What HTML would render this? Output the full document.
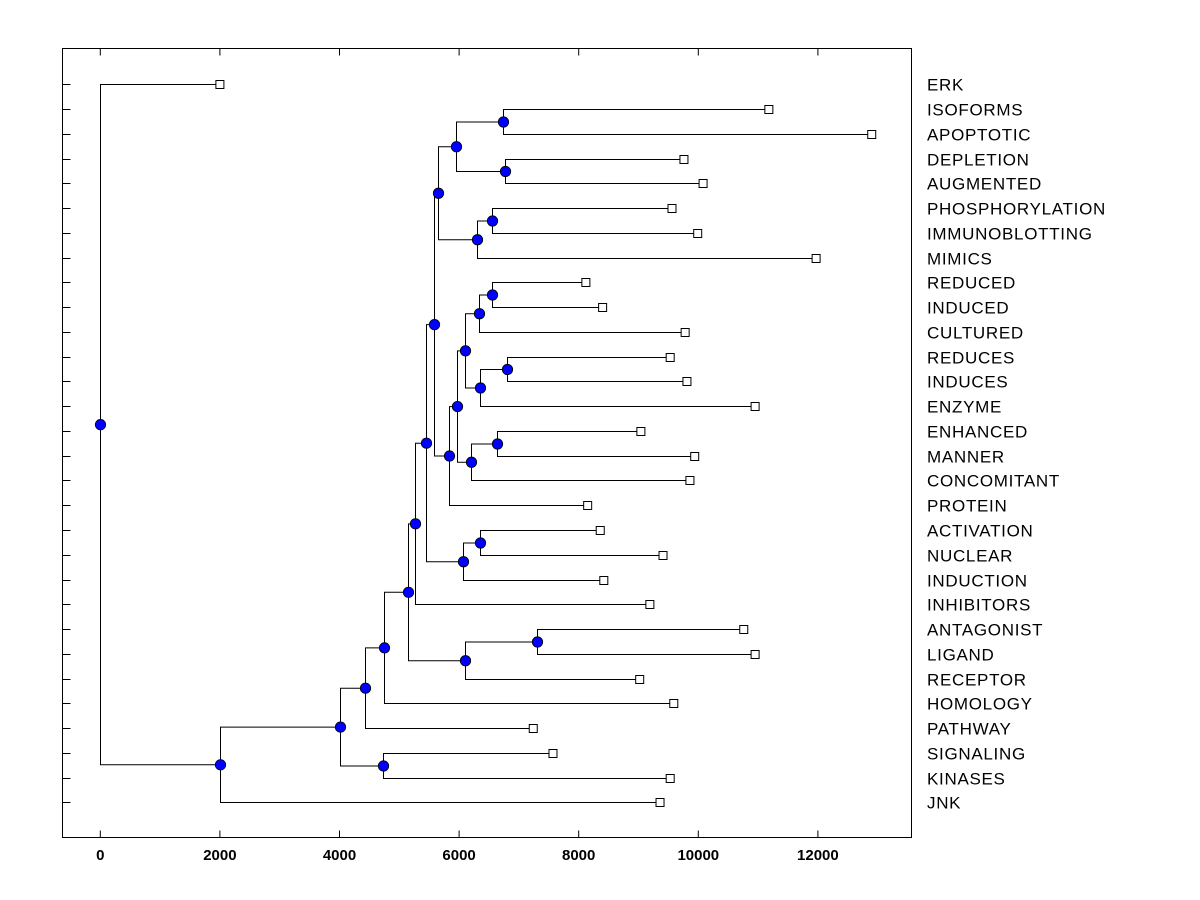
<!DOCTYPE html>
<html><head><meta charset="utf-8"><style>
html,body{margin:0;padding:0;background:#fff;}
svg{display:block;font-family:"Liberation Sans",Arial,sans-serif;}
</style></head><body>
<svg id="chart" width="1200" height="900" viewBox="0 0 1200 900" xmlns="http://www.w3.org/2000/svg">
<rect x="0" y="0" width="1200" height="900" fill="#fff"/>
<rect x="62.5" y="48.5" width="849" height="789" fill="none" stroke="#000" stroke-width="1"/>
<g id="axes"></g><g id="links"></g><g id="marks"></g><g id="labels"></g>
</svg>
<script>
const leafNames = ["ERK","ISOFORMS","APOPTOTIC","DEPLETION","AUGMENTED","PHOSPHORYLATION","IMMUNOBLOTTING","MIMICS","REDUCED","INDUCED","CULTURED","REDUCES","INDUCES","ENZYME","ENHANCED","MANNER","CONCOMITANT","PROTEIN","ACTIVATION","NUCLEAR","INDUCTION","INHIBITORS","ANTAGONIST","LIGAND","RECEPTOR","HOMOLOGY","PATHWAY","SIGNALING","KINASES","JNK"];
const leafValues = [2000,11180,12900,9760,10080,9560,9990,11970,8120,8400,9780,9530,9810,10950,9040,9940,9860,8150,8360,9410,8420,9190,10760,10950,9020,9590,7240,7570,9530,9360];
const mergeA = ["ISOFORMS","DEPLETION",0,"PHOSPHORYLATION",3,2,"REDUCED",6,"REDUCES",8,7,"ENHANCED",11,10,13,5,"ACTIVATION",16,15,18,"ANTAGONIST",20,19,22,23,"SIGNALING",24,26,"ERK"];
const mergeB = ["APOPTOTIC","AUGMENTED",1,"IMMUNOBLOTTING","MIMICS",4,"INDUCED","CULTURED","INDUCES","ENZYME",9,"MANNER","CONCOMITANT",12,"PROTEIN",14,"NUCLEAR","INDUCTION",17,"INHIBITORS","LIGAND","RECEPTOR",21,"HOMOLOGY","PATHWAY","KINASES",25,"JNK",27];
const mergeHeight = [6730,6760,5950,6550,6300,5650,6550,6340,6800,6350,6100,6640,6200,5970,5830,5580,6350,6070,5440,5260,7300,6100,5150,4740,4430,4725,4000,2000,0];
const xTicks = [0,2000,4000,6000,8000,10000,12000];

const NS="http://www.w3.org/2000/svg";
const X0=100.3, KX=0.0598, Y0=84.3, DY=24.76, L=62.5, R=911.5, T=48.5, B=837.5;
const xs=v=>X0+v*KX, ys=i=>Y0+i*DY;
function mk(tag,attrs,parent){const e=document.createElementNS(NS,tag);for(const k in attrs)e.setAttribute(k,attrs[k]);document.getElementById(parent).appendChild(e);return e;}

xTicks.forEach(t=>{
  const x=xs(t);
  let e=mk('line',{x1:x,y1:T,x2:x,y2:T+7,stroke:'#000'},'axes');
  
  
  e=mk('line',{x1:x,y1:B,x2:x,y2:B-7,stroke:'#000'},'axes');
  
  
  e=mk('text',{x:x,y:860,'text-anchor':'middle','font-size':'15','font-weight':'bold'},'labels');
  e.textContent=t;
  
  
});
leafNames.forEach((n,i)=>{
  const y=Math.round(ys(i))+0.5;
  let e=mk('line',{x1:L,y1:y,x2:L+8,y2:y,stroke:'#000'},'axes');
  
  
  e=mk('text',{x:927,y:y+6,'font-size':'17','letter-spacing':'0.7'},'labels');
  e.textContent=n;
  
  
});

const nodeY=[];
function ref(c){ if(typeof c==='string'){const i=leafNames.indexOf(c);return {x:xs(leafValues[i]),y:Math.round(ys(i))+0.5,leaf:true};} return {x:xs(mergeHeight[c]),y:nodeY[c],leaf:false}; }
mergeHeight.forEach((h,k)=>{
  const a=ref(mergeA[k]), b=ref(mergeB[k]);
  const x=Math.round(xs(h))+0.5;
  nodeY[k]=(a.y+b.y)/2;
  let e=mk('path',{d:`M${a.x},${a.y}H${x}V${b.y}H${b.x}`,fill:'none',stroke:'#000','stroke-width':1},'links');
  
  
});
leafNames.forEach((n,i)=>{
  const y=Math.round(ys(i))+0.5, x=xs(leafValues[i]);
  const e=mk('rect',{x:x-4,y:y-4,width:8,height:8,fill:'#fff',stroke:'#000'},'marks');
  
  
});
mergeHeight.forEach((h,k)=>{
  const e=mk('circle',{cx:Math.round(xs(h))+0.5,cy:nodeY[k],r:5.2,fill:'#0000ff',stroke:'#000','stroke-width':0.8},'marks');
  
  
});
</script>
</body></html>
